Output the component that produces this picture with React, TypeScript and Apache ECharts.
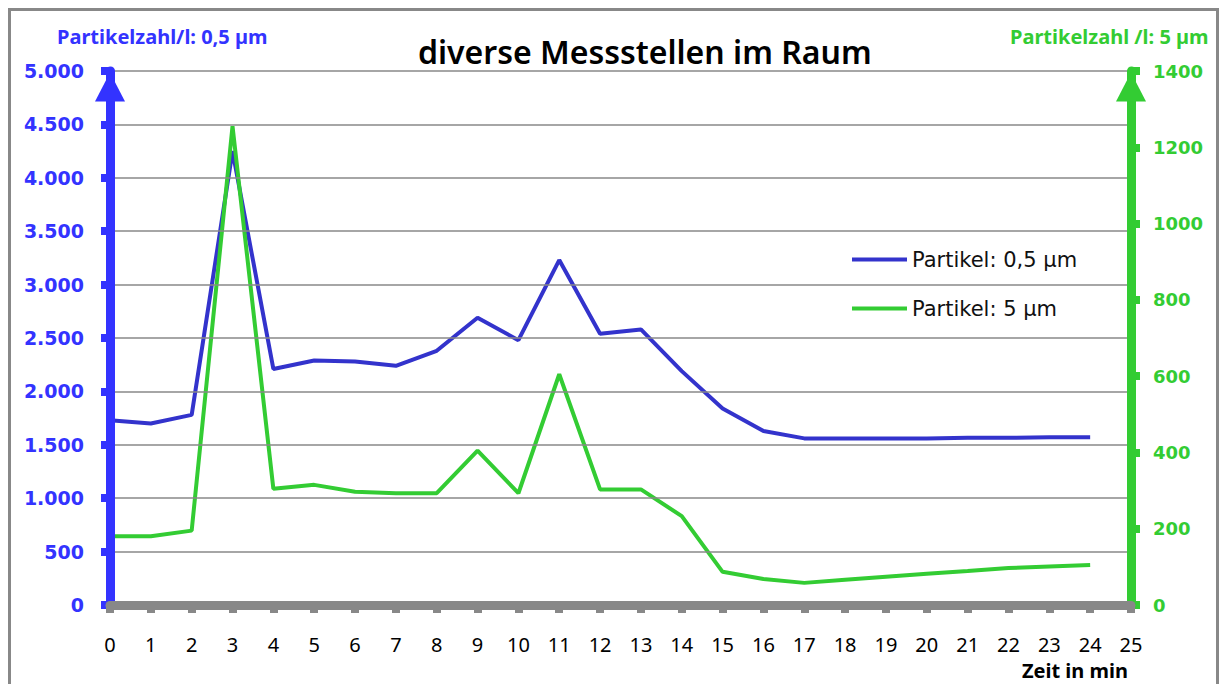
import React, { useEffect, useRef } from "react";
import * as echarts from "echarts";

const minutes = ["0","1","2","3","4","5","6","7","8","9","10","11","12","13","14","15","16","17","18","19","20","21","22","23","24","25"];
const particles05 = [1730,1700,1780,4250,2210,2290,2280,2240,2380,2690,2480,3230,2540,2580,2190,1840,1630,1560,1560,1560,1560,1565,1565,1570,1570];
const particles5 = [180,180,195,1255,305,315,297,293,293,405,293,605,303,303,233,87,68,58,66,74,82,89,97,101,105];
const seriesNames = ["Partikel: 0,5 µm", "Partikel: 5 µm"];
const titleText = "diverse Messstellen im Raum";
const leftAxisName = "Partikelzahl/l: 0,5 µm";
const rightAxisName = "Partikelzahl /l: 5 µm";
const xAxisName = "Zeit in min";

const BLUE_AXIS = "#3333ff";
const BLUE_LINE = "#3333cc";
const GREEN = "#33cc33";
const GRAY = "#888888";

function deNumber(v: number): string {
  return String(Math.round(v)).replace(/\B(?=(\d{3})+(?!\d))/g, ".");
}

export default function App() {
  const ref = useRef<HTMLDivElement>(null);
  useEffect(() => {
    if (!ref.current) return;
    const chart = echarts.init(ref.current, null, { renderer: "svg" });
    chart.setOption({
      animation: false,
      backgroundColor: "#ffffff",
      title: {
        text: titleText,
        left: 413,
        top: 30,
        textStyle: { fontFamily: "Noto Sans", fontSize: 32, fontWeight: 600, color: "#000" },
      },
      legend: {
        orient: "vertical",
        left: 847,
        top: 244,
        icon: "rect",
        itemWidth: 55,
        itemHeight: 4,
        itemGap: 28,
        textStyle: { fontFamily: "DejaVu Sans", fontSize: 21, color: "#111" },
        data: seriesNames,
      },
      graphic: [
        {
          type: "rect",
          shape: { x: 9.5, y: 9.5, width: 1208, height: 720 },
          style: { fill: "none", stroke: GRAY, lineWidth: 3 },
          silent: true,
        },
      ],
      grid: { left: 110, right: 88, top: 71, bottom: 79, containLabel: false, outerBoundsMode: "none" },
      xAxis: {
        type: "category",
        data: minutes,
        boundaryGap: false,
        name: xAxisName,
        nameLocation: "end",
        nameGap: -3,
        nameTextStyle: {
          fontFamily: "Noto Sans",
          fontSize: 20,
          fontWeight: "bold",
          color: "#000",
          align: "right",
          verticalAlign: "top",
          padding: [55, 0, 0, 0],
        },
        axisLine: { lineStyle: { color: GRAY, width: 9 } },
        axisTick: { show: true, length: 8, lineStyle: { color: GRAY, width: 8 } },
        axisLabel: { fontFamily: "Noto Sans", fontSize: 20, color: "#000", margin: 29, interval: 0 },
        splitLine: { show: false },
        z: 5,
      },
      yAxis: [
        {
          type: "value",
          min: 0,
          max: 5000,
          interval: 500,
          position: "left",
          name: leftAxisName,
          nameLocation: "end",
          nameGap: 25,
          nameTextStyle: {
            fontFamily: "Noto Sans",
            fontSize: 20,
            fontWeight: "bold",
            color: BLUE_AXIS,
            align: "left",
            padding: [0, 0, 0, -53],
          },
          axisLine: {
            show: true,
            symbol: ["none", "triangle"],
            symbolSize: [30, 29],
            symbolOffset: [0, -16],
            lineStyle: { color: BLUE_AXIS, width: 9 },
          },
          axisTick: { show: true, length: 9, lineStyle: { color: BLUE_AXIS, width: 8 } },
          axisLabel: {
            fontFamily: "DejaVu Sans",
            fontSize: 19,
            fontWeight: "bold",
            color: BLUE_AXIS,
            margin: 26,
            formatter: (v: number) => deNumber(v),
          },
          splitLine: { show: true, lineStyle: { color: GRAY, width: 1.5 } },
          z: 4,
        },
        {
          type: "value",
          min: 0,
          max: 1400,
          interval: 200,
          position: "right",
          name: rightAxisName,
          nameLocation: "end",
          nameGap: 25,
          nameTextStyle: {
            fontFamily: "Noto Sans",
            fontSize: 20,
            fontWeight: "bold",
            color: GREEN,
            align: "left",
            padding: [0, 0, 0, -121],
          },
          axisLine: {
            show: true,
            symbol: ["none", "triangle"],
            symbolSize: [30, 29],
            symbolOffset: [0, -16],
            lineStyle: { color: GREEN, width: 9 },
          },
          axisTick: { show: true, length: 9, lineStyle: { color: GREEN, width: 8 } },
          axisLabel: {
            fontFamily: "DejaVu Sans",
            fontSize: 18,
            fontWeight: "bold",
            color: GREEN,
            margin: 22,
            formatter: (v: number) => String(v),
          },
          splitLine: { show: false },
          z: 4,
        },
      ],
      series: [
        {
          name: seriesNames[0],
          type: "line",
          yAxisIndex: 0,
          data: particles05,
          symbol: "none",
          lineStyle: { color: BLUE_LINE, width: 4 },
          itemStyle: { color: BLUE_LINE },
          z: 2,
        },
        {
          name: seriesNames[1],
          type: "line",
          yAxisIndex: 1,
          data: particles5,
          symbol: "none",
          lineStyle: { color: GREEN, width: 4 },
          itemStyle: { color: GREEN },
          z: 3,
        },
      ],
    });
    return () => chart.dispose();
  }, []);
  return <div ref={ref} style={{ position: "fixed", left: 0, top: 0, width: 1219, height: 684 }} />;
}
